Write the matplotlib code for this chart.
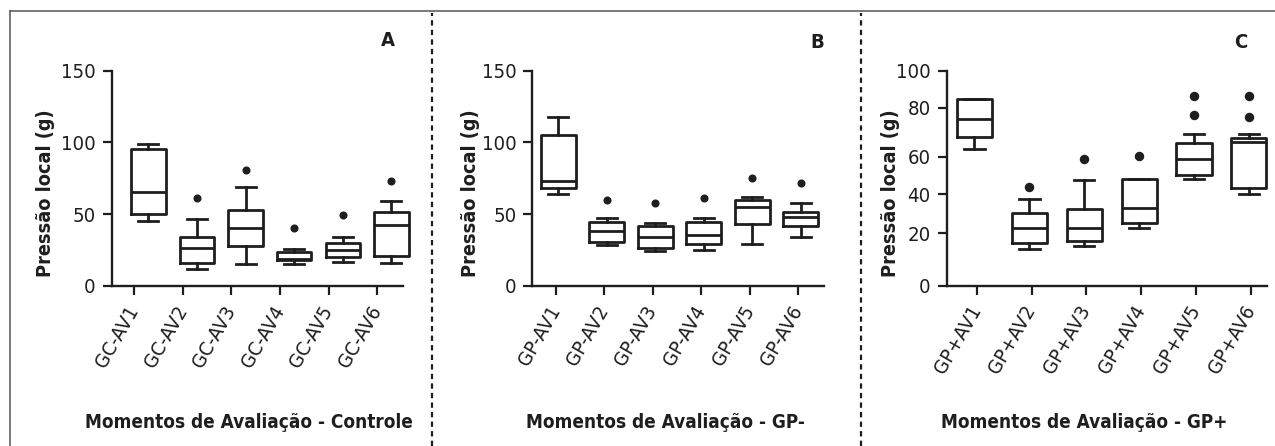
import os
import numpy as np
import matplotlib
matplotlib.use('Agg')
import matplotlib.pyplot as plt
from matplotlib import font_manager as fm
from matplotlib.font_manager import FontProperties
from matplotlib.lines import Line2D

# box plot summaries: whislo, q1, median, q3, whishi
labels_a = ['GC-AV1', 'GC-AV2', 'GC-AV3', 'GC-AV4', 'GC-AV5', 'GC-AV6']
stats_a = [
    [44.9, 49.8, 65.4, 95.6, 98.6],
    [11.6, 15.6, 26.5, 34.0, 46.3],
    [15.1, 27.7, 40.2, 52.8, 68.8],
    [15.1, 17.6, 18.8, 23.7, 25.3],
    [16.7, 20.2, 24.9, 30.0, 33.8],
    [15.8, 20.7, 42.3, 51.2, 59.3],
]
fliers_a = [[], [60.9], [80.5], [40.0], [49.1], [73.3]]

labels_b = ['GP-AV1', 'GP-AV2', 'GP-AV3', 'GP-AV4', 'GP-AV5', 'GP-AV6']
stats_b = [
    [64.0, 67.9, 73.3, 105.4, 117.5],
    [28.4, 30.7, 38.4, 44.4, 47.0],
    [24.2, 26.1, 34.2, 41.9, 43.5],
    [24.9, 29.1, 35.4, 44.4, 47.0],
    [28.8, 43.0, 54.9, 60.0, 62.1],
    [33.7, 41.4, 47.9, 51.2, 57.9],
]
fliers_b = [[], [59.5], [57.5], [61.4], [75.4], [71.4]]

labels_c = ['GP+AV1', 'GP+AV2', 'GP+AV3', 'GP+AV4', 'GP+AV5', 'GP+AV6']
stats_c = [
    [63.0, 68.2, 75.4, 84.7, 84.7],
    [14.0, 16.2, 22.6, 30.3, 37.4],
    [15.2, 17.0, 22.6, 32.6, 47.8],
    [23.0, 25.4, 32.8, 48.1, 48.1],
    [48.1, 50.3, 58.8, 65.7, 69.1],
    [40.2, 43.2, 66.1, 67.5, 69.3],
]
fliers_c = [[], [44.0], [58.8], [60.3], [77.0, 86.3], [76.1, 86.3]]

ylabel = 'Pressão local (g)'
xlabels = ['Momentos de Avaliação - Controle', 'Momentos de Avaliação - GP-',
           'Momentos de Avaliação - GP+']
letters = ['A', 'B', 'C']

# the y axis of panel C is drawn with uneven tick spacing in the original
c_ticks = [0, 20, 40, 60, 80, 100]
c_tick_pos = [0, 24.3, 42.5, 60.0, 82.8, 100]


def find_font(*names):
    files = {os.path.basename(f.fname): f.fname for f in fm.fontManager.ttflist}
    for n in names:
        if n in files:
            return files[n]
    return None


reg_file = find_font('LiberationSansNarrow-Regular.ttf', 'DejaVuSansCondensed.ttf')
bold_file = find_font('DejaVuSansCondensed-Bold.ttf', 'LiberationSansNarrow-Bold.ttf')


def fp(fname, size, bold=False):
    if fname:
        return FontProperties(fname=fname, size=size)
    return FontProperties(family='DejaVu Sans', stretch='condensed',
                          weight='bold' if bold else 'normal', size=size * 0.9)


tick_fp = fp(reg_file, 14.6)
ylab_fp = fp(bold_file, 14.2, bold=True)
xlab_fp = fp(bold_file, 13.6, bold=True)
let_fp = fp(bold_file, 14.5, bold=True)

W, H = 1275, 446
ink = '#1e1e1e'
fig = plt.figure(figsize=(W / 100, H / 100), dpi=100)

# axes extents in pixels: left, right
panels = [
    dict(rect=(111.7, 403.3), stats=stats_a, fliers=fliers_a, labels=labels_a,
         xlim=(0.535, 6.535), ylim=150, offset=0.29, width=0.71, ms=4.8,
         ytxt=46, xtxt=249, let=(387.5, 40)),
    dict(rect=(532.3, 824.3), stats=stats_b, fliers=fliers_b, labels=labels_b,
         xlim=(0.518, 6.536), ylim=150, offset=0.05, width=0.72, ms=4.8,
         ytxt=471, xtxt=665, let=(817.5, 43)),
    dict(rect=(946.7, 1266.7), stats=stats_c, fliers=fliers_c, labels=labels_c,
         xlim=(0.454, 6.286), ylim=100, offset=-0.04, width=0.64, ms=5.8,
         ytxt=891, xtxt=1084, let=(1241, 43)),
]
top, bottom = 70.8, 285.6

for i, p in enumerate(panels):
    l, r = p['rect']
    ax = fig.add_axes([l / W, 1 - bottom / H, (r - l) / W, (bottom - top) / H])
    if i == 2:
        ax.set_yscale('function', functions=(
            lambda v: np.interp(v, c_ticks, c_tick_pos),
            lambda t: np.interp(t, c_tick_pos, c_ticks)))
    bstats = []
    for s, f in zip(p['stats'], p['fliers']):
        bstats.append(dict(whislo=s[0], q1=s[1], med=s[2], q3=s[3], whishi=s[4], fliers=f))
    pos = np.arange(1, 7) + p['offset']
    lw = 2.0
    ax.bxp(bstats, positions=pos, widths=p['width'], capwidths=p['width'] * 0.58,
           showfliers=True, patch_artist=False,
           boxprops=dict(color=ink, linewidth=lw),
           medianprops=dict(color=ink, linewidth=lw),
           whiskerprops=dict(color=ink, linewidth=lw),
           capprops=dict(color=ink, linewidth=lw),
           flierprops=dict(marker='o', markersize=p['ms'], markerfacecolor=ink,
                           markeredgecolor=ink, linestyle='none'))
    for art in ax.get_children():
        if isinstance(art, Line2D):
            art.set_clip_on(False)
    ax.set_xlim(*p['xlim'])
    ax.set_ylim(0, p['ylim'])
    ax.set_xticks(np.arange(1, 7))
    ax.set_xticklabels(p['labels'], rotation=60, ha='right', va='center',
                       rotation_mode='anchor', fontproperties=tick_fp, color=ink)
    if i == 2:
        ax.set_yticks(c_ticks)
        ax.set_yticklabels([str(t) for t in c_ticks], fontproperties=tick_fp, color=ink)
    else:
        ax.set_yticks([0, 50, 100, 150])
        ax.set_yticklabels(['0', '50', '100', '150'], fontproperties=tick_fp, color=ink)
    ax.yaxis.set_minor_locator(matplotlib.ticker.NullLocator())
    ax.tick_params(axis='both', direction='out', length=6.5, width=1.6, color=ink)
    ax.tick_params(axis='x', pad=9)
    ax.tick_params(axis='y', pad=5)
    for side in ['top', 'right']:
        ax.spines[side].set_visible(False)
    for side in ['left', 'bottom']:
        ax.spines[side].set_linewidth(1.7)
        ax.spines[side].set_color(ink)
    ax.patch.set_visible(False)

    fig.text(p['ytxt'] / W, 1 - 193 / H, ylabel, rotation=90, ha='center', va='center',
             fontproperties=ylab_fp, color=ink)
    fig.text(p['xtxt'] / W, 1 - 422 / H, xlabels[i], ha='center', va='center',
             fontproperties=xlab_fp, color=ink)
    fig.text(p['let'][0] / W, 1 - p['let'][1] / H, letters[i], ha='center', va='center',
             fontproperties=let_fp, color=ink)

# frame and dashed separators
fig.add_artist(Line2D([10 / W, 10 / W], [0, 1 - 11 / H], color='#555555', lw=1.1))
fig.add_artist(Line2D([10 / W, 1], [1 - 11 / H, 1 - 11 / H], color='#555555', lw=1.1))
for xs in [431.7, 861]:
    fig.add_artist(Line2D([xs / W, xs / W], [0, 1 - 13 / H], color=ink, lw=1.6,
                          linestyle=(0, (2.4, 1.9))))

fig.savefig('out.png', dpi=100)
